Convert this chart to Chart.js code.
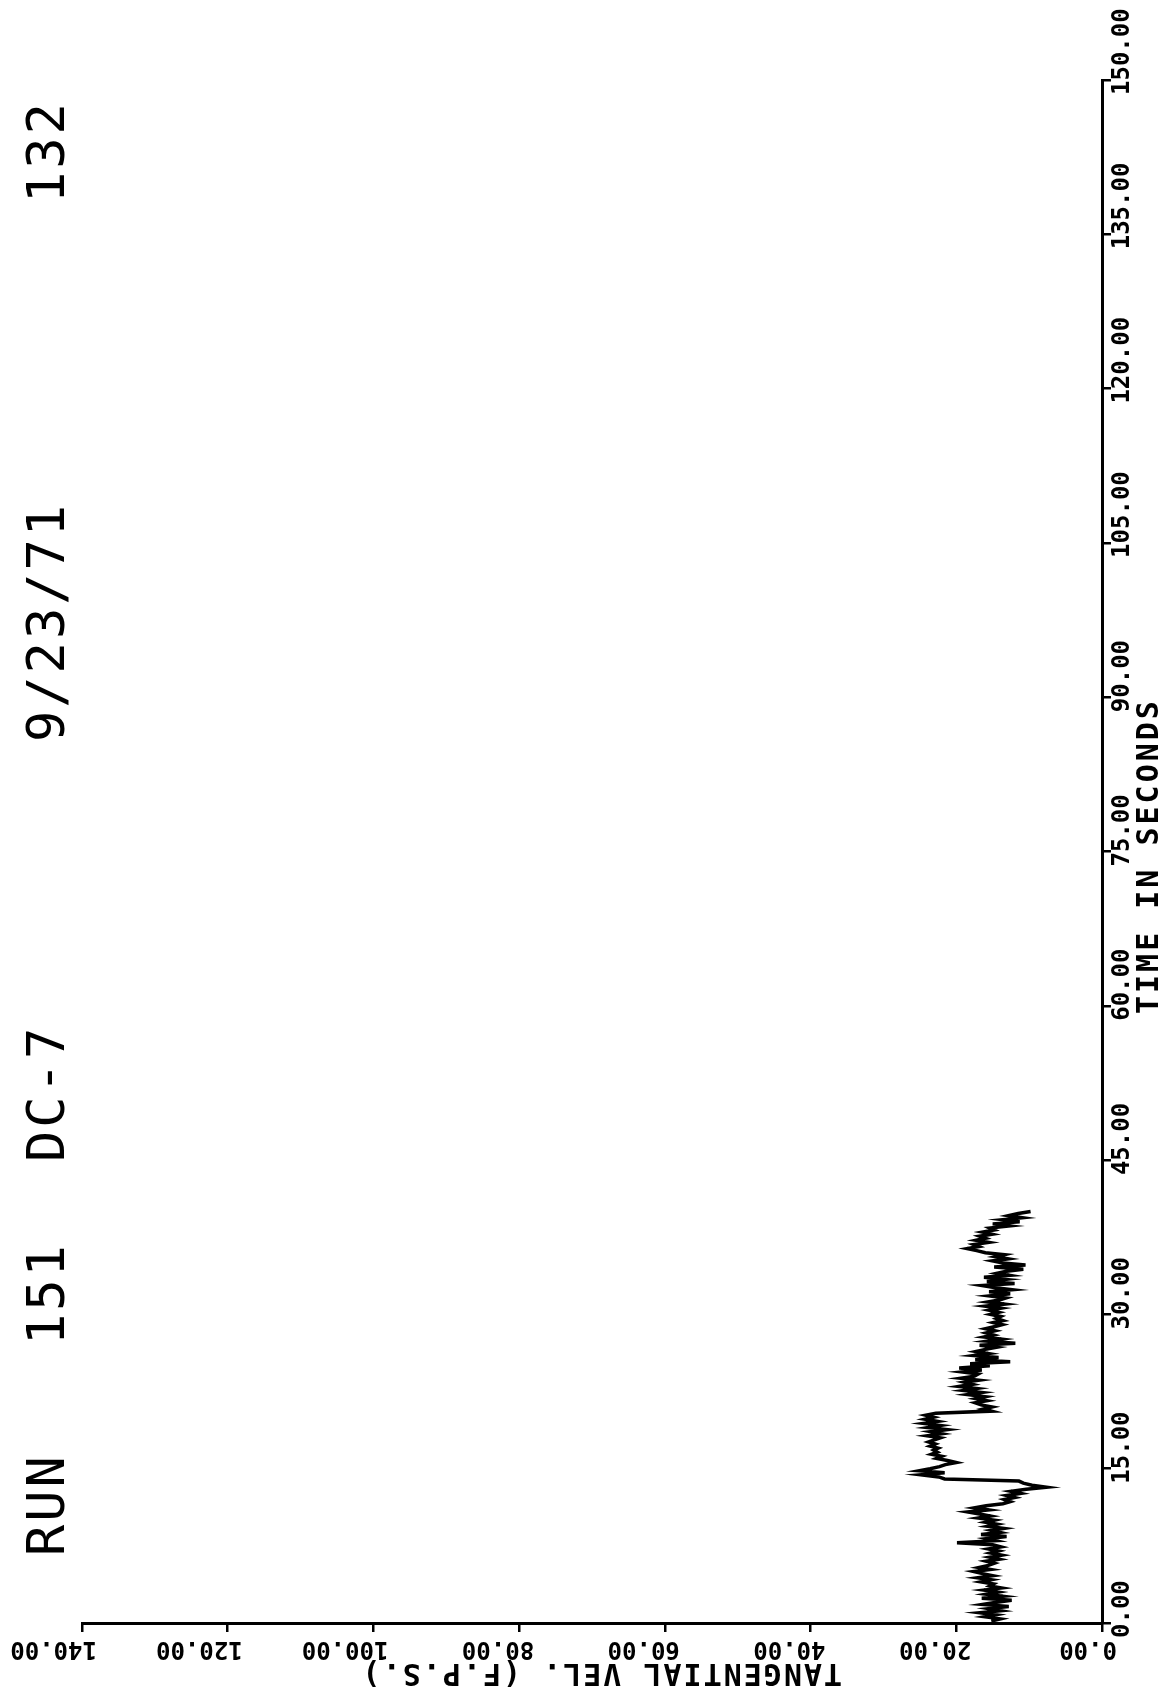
<!DOCTYPE html>
<html>
<head>
<meta charset="utf-8">
<script src="https://cdn.jsdelivr.net/npm/chart.js@4"></script>
<style>
  body { margin: 0; background: #fff; }
  canvas { display: block; }
</style>
</head>
<body>
<canvas id="velChart" width="1167" height="1696"></canvas>
<script>
// Run 151, DC-7, 9/23/71 - tangential velocity vs time (plotted sideways)
const titleParts = ['RUN', '151', 'DC-7', '9/23/71', '132'];
const velTicks = [0, 20, 40, 60, 80, 100, 120, 140];
const timeTicks = [0, 15, 30, 45, 60, 75, 90, 105, 120, 135, 150];

const timeSec = [
    0.2, 0.4, 0.6, 0.8, 1.0, 1.2, 1.4, 1.6, 1.8, 2.0,
    2.2, 2.4, 2.6, 2.8, 3.0, 3.2, 3.4, 3.6, 3.8, 4.0,
    4.2, 4.4, 4.6, 4.8, 5.0, 5.2, 5.4, 5.6, 5.8, 6.0,
    6.2, 6.4, 6.6, 6.8, 7.0, 7.2, 7.4, 7.6, 7.8, 8.0,
    8.2, 8.4, 8.6, 8.8, 9.0, 9.2, 9.4, 9.6, 9.8, 10.0,
    10.2, 10.4, 10.6, 10.8, 11.0, 11.2, 11.4, 11.6, 11.8, 12.0,
    12.2, 12.4, 12.6, 12.8, 13.0, 13.2, 13.4, 13.6, 13.8, 14.0,
    14.2, 14.4, 14.6, 14.8, 15.0, 15.2, 15.4, 15.6, 15.8, 16.0,
    16.2, 16.4, 16.6, 16.8, 17.0, 17.2, 17.4, 17.6, 17.8, 18.0,
    18.2, 18.4, 18.6, 18.8, 19.0, 19.2, 19.4, 19.6, 19.8, 20.0,
    20.2, 20.4, 20.6, 20.8, 21.0, 21.2, 21.4, 21.6, 21.8, 22.0,
    22.2, 22.4, 22.6, 22.8, 23.0, 23.2, 23.4, 23.6, 23.8, 24.0,
    24.2, 24.4, 24.6, 24.8, 25.0, 25.2, 25.4, 25.6, 25.8, 26.0,
    26.2, 26.4, 26.6, 26.8, 27.0, 27.2, 27.4, 27.6, 27.8, 28.0,
    28.2, 28.4, 28.6, 28.8, 29.0, 29.2, 29.4, 29.6, 29.8, 30.0,
    30.2, 30.4, 30.6, 30.8, 31.0, 31.2, 31.4, 31.6, 31.8, 32.0,
    32.2, 32.4, 32.6, 32.8, 33.0, 33.2, 33.4, 33.6, 33.8, 34.0,
    34.2, 34.4, 34.6, 34.8, 35.0, 35.2, 35.4, 35.6, 35.8, 36.0,
    36.2, 36.4, 36.6, 36.8, 37.0, 37.2, 37.4, 37.6, 37.8, 38.0,
    38.2, 38.4, 38.6, 38.8, 39.0, 39.2, 39.4, 39.6, 39.8, 40.0
];

const velFps = [
    15.2, 14.0, 16.1, 14.6, 16.8, 13.9, 15.5, 12.8, 16.4, 14.7,
    12.4, 16.5, 13.6, 15.9, 14.3, 16.2, 13.8, 15.4, 14.9, 16.6,
    15.2, 17.1, 15.0, 16.4, 17.6, 15.3, 16.9, 15.6, 14.8, 15.9,
    14.1, 15.4, 13.8, 15.3, 14.2, 15.6, 13.9, 15.0, 19.9, 14.6,
    15.8, 13.1, 16.6, 14.0, 15.2, 13.5, 15.7, 14.4, 16.0, 14.8,
    17.0, 15.3, 16.8, 18.4, 15.6, 17.5, 15.9, 13.6, 12.6, 13.4,
    12.0, 13.1, 11.2, 12.5, 10.4, 7.6, 9.6, 10.8, 11.4, 21.6,
    22.4, 24.8, 21.6, 25.1, 23.6, 22.3, 21.5, 20.0, 21.2, 22.7,
    22.0, 23.4, 22.6, 23.1, 22.5, 23.6, 22.9, 23.8, 23.0, 22.2,
    24.0, 22.0, 23.5, 21.3, 23.9, 22.2, 24.5, 22.6, 24.3, 23.1,
    24.2, 22.8, 15.2, 16.3, 15.1, 16.6, 17.4, 15.8, 17.3, 16.0,
    18.4, 16.5, 19.0, 17.2, 19.6, 17.8, 18.9, 16.9, 19.4, 17.5,
    17.0, 19.2, 16.5, 19.6, 15.4, 18.1, 12.6, 17.4, 14.2, 17.6,
    15.6, 17.3, 16.0, 14.5, 16.8, 11.9, 15.7, 13.8, 16.2, 14.9,
    15.9, 14.7, 16.0, 14.8, 13.7, 14.9, 13.6, 14.5, 13.9, 15.3,
    14.2, 15.5, 13.9, 16.0, 13.4, 15.7, 14.1, 13.2, 15.4, 12.6,
    15.5, 12.3, 14.6, 16.4, 12.0, 15.8, 13.3, 16.2, 12.7, 14.4,
    13.1, 10.8, 14.8, 10.5, 13.6, 15.0, 12.9, 14.6, 13.4, 16.0,
    17.2, 18.5, 16.9, 17.6, 15.6, 17.3, 16.0, 16.8, 15.1, 16.4,
    14.8, 15.4, 12.7, 15.0, 11.3, 13.6, 10.9, 12.8, 11.5, 9.8
];

const MONO = '"DejaVu Sans Mono", "Liberation Mono", monospace';

// draws the rotated labels the plotter used (ticks, axis titles, header)
const sidewaysText = {
    id: 'sidewaysText',
    afterDraw(chart) {
        const ctx = chart.ctx;
        const xs = chart.scales.x;
        const ys = chart.scales.y;
        ctx.save();
        ctx.fillStyle = '#000';
        ctx.textAlign = 'left';
        ctx.textBaseline = 'middle';

        // time tick labels, reading bottom to top
        ctx.font = 'bold 24px ' + MONO;
        timeTicks.forEach(t => {
            const py = ys.getPixelForValue(t);
            ctx.save();
            ctx.translate(1123, py + 15);
            ctx.rotate(-Math.PI / 2);
            ctx.fillText(t.toFixed(2), 0, 0);
            ctx.restore();
        });

        // velocity tick labels, upside down
        velTicks.forEach(v => {
            const px = xs.getPixelForValue(v);
            ctx.save();
            ctx.translate(px + 15, 1648);
            ctx.rotate(Math.PI);
            ctx.fillText(v.toFixed(2), 0, 0);
            ctx.restore();
        });

        // axis titles
        ctx.font = 'bold 30px ' + MONO;
        ctx.letterSpacing = '3px';
        ctx.save();
        ctx.translate(1150, 1014);
        ctx.rotate(-Math.PI / 2);
        ctx.fillText('TIME IN SECONDS', 0, 0);
        ctx.restore();

        ctx.letterSpacing = '2px';
        ctx.save();
        ctx.translate(842, 1672);
        ctx.rotate(Math.PI);
        ctx.fillText('TANGENTIAL VEL. (F.P.S.)', 0, 0);
        ctx.restore();

        // header along the left edge
        ctx.font = '52px ' + MONO;
        ctx.letterSpacing = '3px';
        const starts = [1556, 1345, 1162, 742, 203];
        titleParts.forEach((s, i) => {
            ctx.save();
            ctx.translate(50, starts[i]);
            ctx.rotate(-Math.PI / 2);
            ctx.fillText(s, 0, 0);
            ctx.restore();
        });
        ctx.restore();
    }
};

new Chart(document.getElementById('velChart'), {
    type: 'scatter',
    data: {
        datasets: [{
            data: timeSec.map((t, i) => ({ x: velFps[i], y: t })),
            showLine: true,
            borderColor: '#000',
            borderWidth: 3.5,
            pointRadius: 0,
            tension: 0
        }]
    },
    options: {
        responsive: false,
        animation: false,
        devicePixelRatio: 1,
        layout: { padding: { left: 82, top: 80, right: 0, bottom: 0 } },
        plugins: { legend: { display: false }, tooltip: { enabled: false } },
        scales: {
            x: {
                type: 'linear',
                reverse: true,
                min: 0,
                max: 140,
                ticks: { display: false, stepSize: 20 },
                grid: { drawOnChartArea: false, drawTicks: true, tickLength: 9, color: '#000', lineWidth: 2.5 },
                border: { display: true, color: '#000', width: 3 },
                afterFit: s => { s.height = 73; }
            },
            y: {
                type: 'linear',
                position: 'right',
                min: 0,
                max: 150,
                ticks: { display: false, stepSize: 15 },
                grid: { drawOnChartArea: false, drawTicks: true, tickLength: 9, color: '#000', lineWidth: 2.5 },
                border: { display: true, color: '#000', width: 3 },
                afterFit: s => { s.width = 65; }
            }
        }
    },
    plugins: [sidewaysText]
});
</script>
</body>
</html>
